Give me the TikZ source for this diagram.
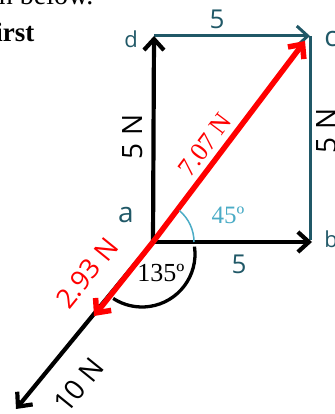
\documentclass[tikz,border=0pt]{standalone}
\usepackage{fontspec}
\usepackage{tikz}
\usetikzlibrary{arrows.meta}
\setmainfont{Liberation Serif}
\newfontfamily\vclabel{Open Sans}
\definecolor{vcteal}{HTML}{205867}
\definecolor{vcsky} {HTML}{4BACC6}
\definecolor{vcred} {HTML}{FF0000}
\tikzset{
  vec/.style={line width=4.2pt, -{Straight Barb[length=11pt,width=20pt]}},
  lbl/.style={font=\vclabel\fontsize{28}{32}\selectfont},
  sml/.style={font=\vclabel\fontsize{22}{26}\selectfont},
  ang/.style={font=\fontsize{25}{30}\selectfont}
}

\begin{document}
\begin{tikzpicture}[x=1pt, y=1pt]
          \useasboundingbox (0,0) rectangle (334,414);
          \coordinate (a) at (153,172);
          \coordinate (b) at (312,172);
          \coordinate (c) at (310,378);
          \coordinate (d) at (154,378);
          \coordinate (bc) at (310,174);
          \coordinate (rc) at (305,373);
          \coordinate (rs) at (94,98);
          \coordinate (ts) at (16,5);
          \draw[vcteal, line width=3pt] (bc) -- (c);
          \draw[vec, vcteal, line width=3pt] (d) -- (c);
          \draw[vec] (a) -- (d);
          \draw[vec] (a) -- (b);
          \draw[vec] (a) -- (ts);
          \draw[vec, vcred, line width=5.5pt] (a) -- (rc);
          \draw[vec, vcred, line width=5.5pt] (a) -- (rs);
          \draw[vcsky, line width=1.5pt] (a) ++(41,0) arc[start angle=0, end angle=50, radius=41];
          \draw[line width=3.3pt] (142,160) ++(8:53) arc[start angle=8, end angle=-123, radius=53];
          \node[lbl, vcteal] (la) at (126,199) {a};
          \node[sml, vcteal] (lb) at (331,175) {b};
          \node[lbl, vcteal] (lc) at (331,375) {c};
          \node[sml, vcteal] (ld) at (131,375) {d};
          \node[lbl, vcteal, font=\vclabel\fontsize{26}{30}\selectfont] (ldc) at (217,395) {5};
          \node[lbl, vcteal, font=\vclabel\fontsize{26}{30}\selectfont] (lab) at (239,150) {5};
          \node[lbl, rotate=90] (lad) at (133,277) {5 N};
          \node[lbl, rotate=90] (lbc) at (327,283) {5 N};
          \node[ang, vcsky] (lt) at (228,199) {45º};
          \node[ang, font=\fontsize{26}{30}\selectfont] (lo) at (161,141) {135º};
          \node[ang, vcred, rotate=53, font=\fontsize{26}{30}\selectfont] (lr) at (205,269) {7.07 N};
          \node[lbl, vcred, rotate=51, font=\vclabel\fontsize{27}{30}\selectfont] (lrs) at (87,141) {2.93 N};
          \node[lbl, rotate=51] (lts) at (79,29) {10 N};
          \node[font=\bfseries\fontsize{27}{30}\selectfont, anchor=base east] (hd) at (38,372) {First};
          \node[font=\fontsize{28}{32}\selectfont, anchor=base east] (tx) at (97,409) {n below.};
        \end{tikzpicture}
\end{document}
